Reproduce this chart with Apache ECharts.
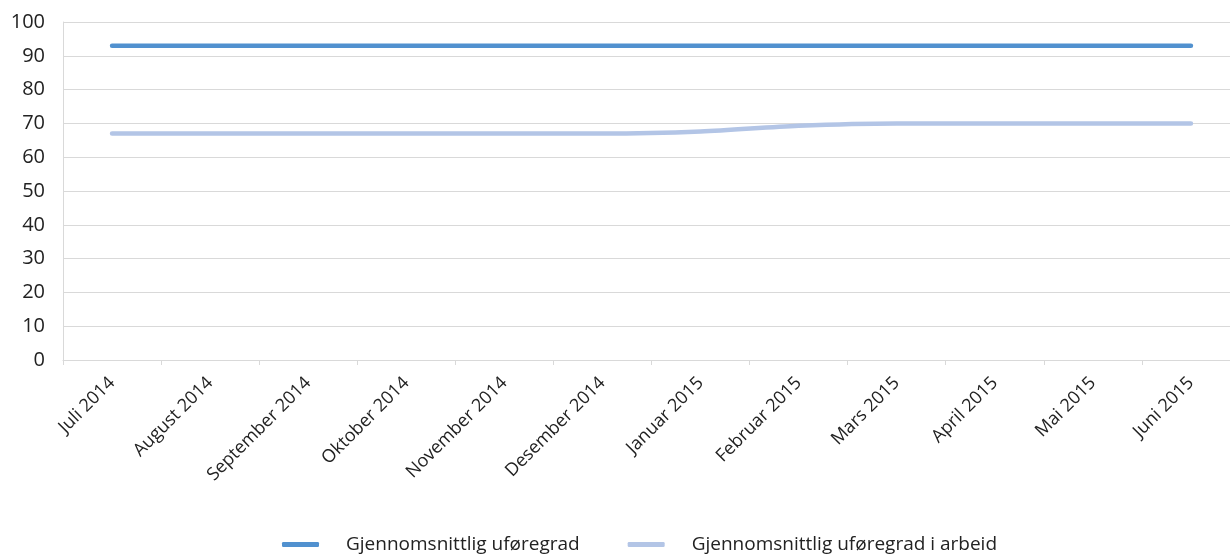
<!DOCTYPE html>
<html>
<head>
<meta charset="utf-8">
<script src="https://cdn.jsdelivr.net/npm/echarts@6/dist/echarts.min.js"></script>
<style>
  html, body { margin: 0; padding: 0; background: #fff; overflow: hidden; }
  #chart { width: 1230px; height: 554px; }
</style>
</head>
<body>
<div id="chart"></div>
<script>
// Months shown on the category axis
const months = [
  'Juli 2014', 'August 2014', 'September 2014', 'Oktober 2014',
  'November 2014', 'Desember 2014', 'Januar 2015', 'Februar 2015',
  'Mars 2015', 'April 2015', 'Mai 2015', 'Juni 2015'
];

// Average disability degree (%)
const avgDegree = [93, 93, 93, 93, 93, 93, 93, 93, 93, 93, 93, 93];

// Average disability degree among those in work (%)
const avgDegreeWorking = [67, 67, 67, 67, 67, 67, 67.6, 69.3, 70, 70, 70, 70];

const seriesNames = ['Gjennomsnittlig uføregrad', 'Gjennomsnittlig uføregrad i arbeid'];

const chart = echarts.init(document.getElementById('chart'));
chart.setOption({
  animation: false,
  // the plot area runs a little past the right edge of the canvas
  grid: { left: 63, right: -10, top: 22, bottom: 194, outerBoundsMode: 'none', containLabel: false },
  legend: {
    top: 530,
    left: 277,
    icon: 'roundRect',
    itemWidth: 37,
    itemHeight: 5,
    itemGap: 48,
    textStyle: {
      fontFamily: 'Open Sans',
      fontSize: 19,
      color: '#222',
      padding: [0, 0, 0, 22]
    },
    data: seriesNames
  },
  xAxis: {
    type: 'category',
    data: months,
    boundaryGap: true,
    axisLine: { lineStyle: { color: '#d9d9d9', width: 1 } },
    axisTick: { show: true, length: 5, lineStyle: { color: '#d9d9d9' } },
    axisLabel: {
      rotate: 45,
      margin: 20,
      fontFamily: 'Open Sans',
      fontSize: 18,
      color: '#222',
      interval: 0
    }
  },
  yAxis: {
    type: 'value',
    min: 0,
    max: 100,
    interval: 10,
    axisLine: { show: true, lineStyle: { color: '#d9d9d9' } },
    axisTick: { show: false },
    splitLine: { lineStyle: { color: '#d9d9d9', width: 1 } },
    axisLabel: {
      fontFamily: 'Open Sans',
      fontSize: 20,
      color: '#222',
      margin: 18
    }
  },
  series: [
    {
      name: seriesNames[0],
      type: 'line',
      data: avgDegree,
      symbol: 'none',
      lineStyle: { color: '#5191cf', width: 4.5, cap: 'round' },
      itemStyle: { color: '#5191cf' }
    },
    {
      name: seriesNames[1],
      type: 'line',
      data: avgDegreeWorking,
      symbol: 'none',
      smooth: 0.3,
      lineStyle: { color: '#b3c5e6', width: 4.5, cap: 'round' },
      itemStyle: { color: '#b3c5e6' }
    }
  ]
});
</script>
</body>
</html>
